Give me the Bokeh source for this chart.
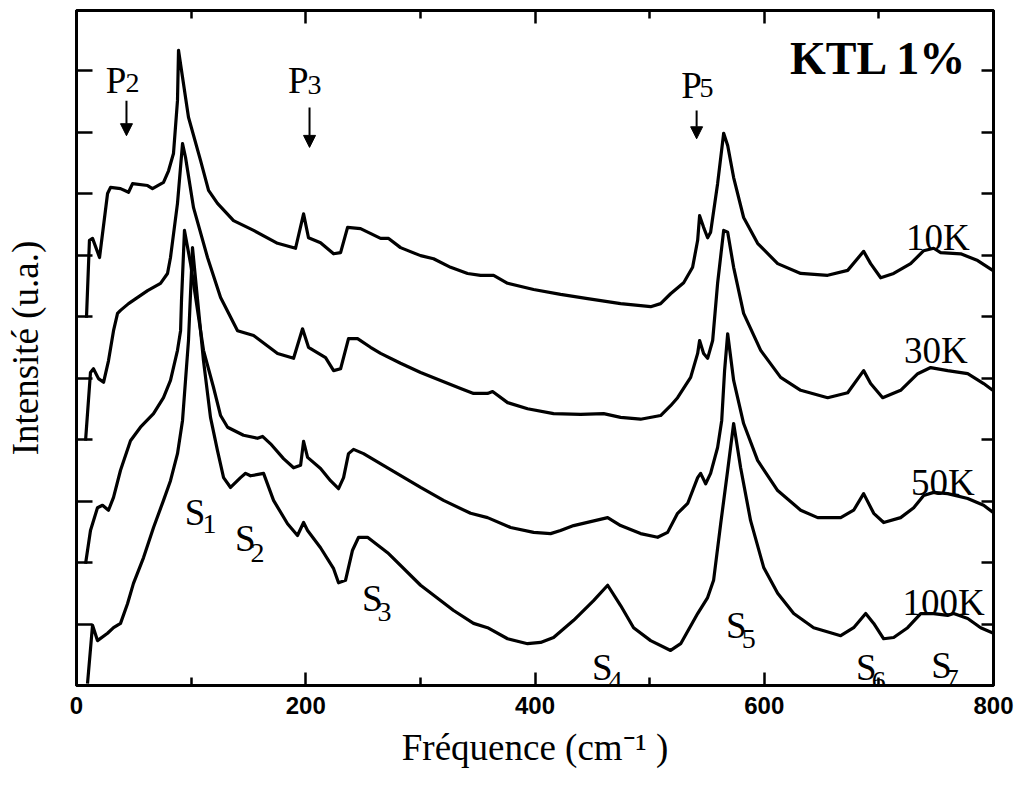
from bokeh.plotting import figure
from bokeh.models import (Range1d, LinearAxis, FixedTicker, CustomJSTickFormatter,
                          Arrow, NormalHead)
from bokeh.core.properties import value
from bokeh.embed import file_html
from bokeh.resources import INLINE

# ---------------- data (wavenumber in cm-1, intensity in arbitrary units) ----------------
wn_10K = [8.7, 11.3, 14.0, 20.1, 27.1, 29.7, 38.4, 45.4, 48.9, 62.0, 66.3, 75.9, 80.3, 84.6,
          88.1, 89.0, 92.5, 97.7, 108.2, 115.2, 123.0, 137.0, 154.5, 175.4, 191.1, 198.1,
          202.4, 212.9, 224.3, 230.4, 236.5, 247.8, 265.3, 272.3, 282.7, 300.2, 311.5, 326.4,
          341.2, 352.5, 363.9, 376.1, 398.8, 422.3, 445.9, 474.7, 500.9, 509.6, 518.3, 529.7,
          537.5, 541.9, 543.6, 547.1, 550.6, 553.2, 559.3, 564.6, 568.1, 573.3, 582.0, 594.2,
          611.7, 631.8, 655.3, 672.8, 686.7, 692.8, 701.6, 712.9, 727.7, 739.1, 747.8, 753.9,
          771.4, 786.2, 799.3]
int_10K = [5.98, 7.24, 7.27, 6.96, 8.00, 8.10, 8.08, 8.02, 8.16, 8.13, 8.08, 8.18, 8.37, 8.65,
           9.51, 10.33, 9.89, 9.24, 8.54, 8.05, 7.84, 7.56, 7.40, 7.19, 7.11, 7.67,
           7.28, 7.20, 7.02, 7.04, 7.45, 7.43, 7.27, 7.27, 7.12, 6.99, 6.94, 6.80,
           6.70, 6.67, 6.67, 6.54, 6.44, 6.36, 6.29, 6.21, 6.16, 6.21, 6.37, 6.55,
           6.80, 7.24, 7.64, 7.45, 7.28, 7.37, 8.16, 8.98, 8.78, 8.26, 7.61, 7.19,
           6.86, 6.70, 6.67, 6.75, 7.06, 6.86, 6.63, 6.70, 6.86, 7.07, 7.11, 7.04,
           7.02, 6.91, 6.75]

wn_30K = [7.9, 12.2, 14.8, 19.2, 23.6, 27.9, 32.3, 35.8, 38.4, 45.4, 62.0, 73.3, 79.4, 82.0,
          88.1, 92.5, 95.1, 102.1, 114.3, 125.7, 140.5, 154.5, 175.4, 189.4, 197.2, 202.4,
          217.3, 224.3, 230.4, 237.3, 245.2, 256.5, 265.3, 282.7, 300.2, 317.6, 335.1, 346.4,
          358.6, 363.0, 376.1, 393.5, 416.2, 439.8, 459.9, 474.7, 492.1, 509.6, 518.3, 524.4,
          535.8, 541.9, 543.6, 547.1, 550.6, 555.0, 559.3, 564.6, 568.1, 573.3, 582.0, 596.9,
          614.3, 631.8, 655.3, 672.8, 686.7, 692.8, 703.3, 719.0, 733.9, 745.2, 760.0, 777.5,
          791.4, 799.3]
int_30K = [3.98, 5.09, 5.15, 4.99, 4.93, 5.28, 5.77, 6.05, 6.10, 6.21, 6.42, 6.54, 6.70, 6.96,
           7.84, 8.81, 8.59, 7.77, 6.96, 6.31, 5.77, 5.69, 5.40, 5.32, 5.80, 5.50,
           5.33, 5.12, 5.15, 5.64, 5.64, 5.50, 5.40, 5.24, 5.09, 4.96, 4.83, 4.75,
           4.75, 4.78, 4.60, 4.50, 4.42, 4.41, 4.42, 4.36, 4.33, 4.39, 4.55, 4.68,
           5.01, 5.40, 5.61, 5.40, 5.32, 5.61, 6.54, 7.40, 7.37, 6.80, 6.05, 5.45,
           5.01, 4.80, 4.68, 4.76, 5.12, 4.91, 4.68, 4.80, 5.07, 5.17, 5.12, 5.07,
           4.91, 4.80]

wn_50K = [7.9, 12.2, 18.3, 22.7, 27.9, 32.3, 38.4, 47.1, 55.8, 67.2, 75.9, 82.0, 88.1, 90.8,
          91.6, 94.2, 99.5, 110.8, 119.5, 125.7, 131.8, 137.0, 145.7, 157.9, 162.3, 169.3,
          180.6, 189.4, 195.5, 198.1, 201.6, 212.9, 221.6, 228.6, 233.0, 237.3, 241.7, 250.4,
          271.4, 300.2, 320.2, 343.8, 358.6, 378.7, 398.8, 413.6, 422.3, 433.7, 463.4, 474.7,
          492.1, 507.0, 515.7, 524.4, 533.2, 541.9, 544.5, 548.9, 553.2, 559.3, 562.9, 565.4,
          568.1, 573.3, 582.0, 594.2, 611.7, 631.8, 646.6, 666.7, 678.0, 686.7, 695.5, 704.2,
          719.0, 730.4, 739.1, 747.8, 760.0, 777.5, 791.4, 800.0]
int_50K = [1.98, 2.52, 2.89, 2.93, 2.85, 3.06, 3.50, 3.98, 4.20, 4.42, 4.68, 4.96, 5.45, 5.77,
           6.26, 7.40, 6.86, 5.45, 4.85, 4.39, 4.20, 4.15, 4.07, 4.02, 4.05, 3.93,
           3.69, 3.54, 3.58, 3.97, 3.71, 3.53, 3.33, 3.20, 3.38, 3.77, 3.84, 3.77,
           3.54, 3.22, 3.01, 2.80, 2.73, 2.57, 2.49, 2.47, 2.52, 2.60, 2.73, 2.60,
           2.47, 2.41, 2.49, 2.80, 2.96, 3.38, 3.45, 3.28, 3.45, 3.87, 4.31, 5.12,
           5.72, 4.96, 4.26, 3.66, 3.17, 2.85, 2.73, 2.73, 2.85, 3.12, 2.80, 2.65,
           2.73, 2.89, 3.09, 3.14, 3.12, 3.04, 2.93, 2.81]

wn_100K = [9.6, 14.0, 18.3, 27.1, 32.3, 38.4, 44.5, 49.7, 58.5, 67.2, 75.9, 82.0, 88.1, 92.5,
           95.1, 97.7, 101.2, 110.8, 116.9, 123.0, 128.3, 134.4, 143.1, 147.5, 151.8, 163.2,
           171.9, 184.1, 192.8, 198.1, 201.6, 212.9, 224.3, 228.6, 234.7, 240.8, 246.1, 253.9,
           271.4, 300.2, 329.0, 346.4, 358.6, 376.1, 393.5, 404.9, 416.2, 433.7, 451.1, 463.4,
           474.7, 486.0, 500.9, 518.3, 527.1, 541.9, 550.6, 555.8, 562.0, 568.1, 573.3, 579.4,
           588.1, 599.5, 611.7, 625.7, 643.1, 666.7, 678.0, 688.5, 695.5, 704.2, 712.9, 725.1,
           736.5, 747.8, 760.0, 765.3, 777.5, 788.8, 800.0]
int_100K = [0.03, 0.98, 0.73, 0.85, 0.94, 1.01, 1.33, 1.66, 2.08, 2.57, 3.01, 3.33, 3.77, 4.31,
            4.96, 5.61, 7.12, 5.28, 4.36, 3.82, 3.38, 3.22, 3.38, 3.45, 3.41, 3.45,
            3.01, 2.63, 2.44, 2.65, 2.52, 2.24, 1.90, 1.67, 1.71, 2.20, 2.41, 2.41,
            2.16, 1.63, 1.22, 1.01, 0.94, 0.76, 0.68, 0.70, 0.78, 1.06, 1.38, 1.63,
            1.30, 0.94, 0.73, 0.57, 0.68, 1.17, 1.43, 1.71, 2.63, 3.50, 4.26, 3.54,
            2.68, 1.92, 1.50, 1.17, 0.94, 0.81, 0.94, 1.17, 1.01, 0.76, 0.78, 0.94,
            1.17, 1.17, 1.14, 1.17, 1.09, 0.94, 0.85]

x_ticks = [0, 200, 400, 600, 800]
x_minor_ticks = [100, 300, 500, 700]
y_ticks = [1, 2, 3, 4, 5, 6, 7, 8, 9, 10]

# annotations
temp_labels = ["10K", "30K", "50K", "100K"]
temp_x = [779.2, 777.5, 783.6, 792.3]
temp_y = [7.28, 5.45, 3.30, 1.35]

peak_main = ["P", "P", "P", "S", "S", "S", "S", "S", "S", "S"]
peak_sub = ["2", "3", "5", "1", "2", "3", "4", "5", "6", "7"]
main_x = [25.5, 184.5, 527.5, 94.5, 138.2, 249.0, 449.8, 566.7, 680.0, 745.6]
main_y = [9.84, 9.84, 9.76, 2.81, 2.39, 1.41, 0.29, 0.98, 0.29, 0.33]
sub_x = [42.8, 201.6, 543.6, 109.9, 151.8, 262.7, 464.2, 580.3, 693.7, 757.4]
sub_y = [9.79, 9.76, 9.71, 2.63, 2.16, 1.19, 0.08, 0.76, 0.08, 0.11]

arrow_x = [43.6, 203.3, 541.0]
arrow_y0 = [9.51, 9.40, 9.35]
arrow_y1 = [8.94, 8.75, 8.89]

# ---------------- figure ----------------
serif = "Liberation Serif"
p = figure(width=1025, height=790, output_backend="svg", toolbar_location=None,
           x_range=Range1d(0, 800), y_range=Range1d(0, 10.976),
           min_border_left=76, min_border_right=32, min_border_top=10, min_border_bottom=105,
           background_fill_color="white", border_fill_color="white")
p.grid.visible = False
p.outline_line_color = "black"
p.outline_line_width = 3

blank = CustomJSTickFormatter(code="return ''")

xax = p.xaxis[0]
xax.ticker = FixedTicker(ticks=x_ticks, minor_ticks=x_minor_ticks)
xax.axis_label = "Fréquence (cm⁻¹ )"
xax.axis_label_text_font = serif
xax.axis_label_text_font_style = "normal"
xax.axis_label_text_font_size = "37px"
xax.axis_label_text_color = "black"
xax.axis_label_standoff = 10
xax.major_label_text_font = "Liberation Sans"
xax.major_label_text_font_style = "bold"
xax.major_label_text_font_size = "24px"
xax.major_label_text_color = "black"
xax.major_label_standoff = 11
xax.major_tick_in = 13
xax.major_tick_out = 0
xax.minor_tick_in = 8
xax.minor_tick_out = 0
xax.axis_line_width = 3
xax.axis_line_color = "black"
xax.major_tick_line_width = 2.5
xax.minor_tick_line_width = 2.5

yax = p.yaxis[0]
yax.ticker = FixedTicker(ticks=y_ticks, minor_ticks=[])
yax.formatter = blank
yax.axis_label = "Intensité (u.a.)"
yax.axis_label_text_font = serif
yax.axis_label_text_font_style = "normal"
yax.axis_label_text_font_size = "37px"
yax.axis_label_text_color = "black"
yax.axis_label_standoff = 31
yax.major_label_standoff = 0
yax.major_label_text_font_size = "1px"
yax.major_tick_in = 16
yax.major_tick_out = 0
yax.minor_tick_in = 0
yax.minor_tick_out = 0
yax.axis_line_width = 3
yax.major_tick_line_width = 2.5

top = LinearAxis(ticker=FixedTicker(ticks=x_ticks, minor_ticks=x_minor_ticks), formatter=blank,
                 major_tick_in=13, major_tick_out=0, minor_tick_in=8, minor_tick_out=0,
                 major_label_standoff=0, major_label_text_font_size="1px",
                 axis_line_width=3, major_tick_line_width=2.5, minor_tick_line_width=2.5)
right = LinearAxis(ticker=FixedTicker(ticks=y_ticks, minor_ticks=[]), formatter=blank,
                   major_tick_in=12, major_tick_out=0, minor_tick_in=0, minor_tick_out=0,
                   major_label_standoff=0, major_label_text_font_size="1px",
                   axis_line_width=3, major_tick_line_width=2.5)
p.add_layout(top, "above")
p.add_layout(right, "right")

for xs, ys in [(wn_10K, int_10K), (wn_30K, int_30K), (wn_50K, int_50K), (wn_100K, int_100K)]:
    p.line(xs, ys, line_color="black", line_width=3.2, line_join="round")

# temperature labels
p.text(x=temp_x, y=temp_y, text=temp_labels, text_font=value(serif), text_font_size="37px",
       text_align="right", text_baseline="alphabetic", text_color="black")

# peak labels
p.text(x=main_x, y=main_y, text=peak_main, text_font=value(serif), text_font_size="37px",
       text_align="left", text_baseline="alphabetic", text_color="black")
p.text(x=sub_x, y=sub_y, text=peak_sub, text_font=value(serif), text_font_size="28px",
       text_align="left", text_baseline="alphabetic", text_color="black")

# title label
p.text(x=[777.5], y=[10.20], text=["KTL 1%"], text_font=value(serif), text_font_size="46px",
       text_font_style="bold", text_align="right", text_baseline="alphabetic", text_color="black")

# arrows
for ax_, y0, y1 in zip(arrow_x, arrow_y0, arrow_y1):
    p.add_layout(Arrow(end=NormalHead(size=12, fill_color="black", line_color="black", line_width=1),
                       x_start=ax_, y_start=y0, x_end=ax_, y_end=y1,
                       line_color="black", line_width=2))

open("out.html", "w").write(file_html(p, INLINE))
